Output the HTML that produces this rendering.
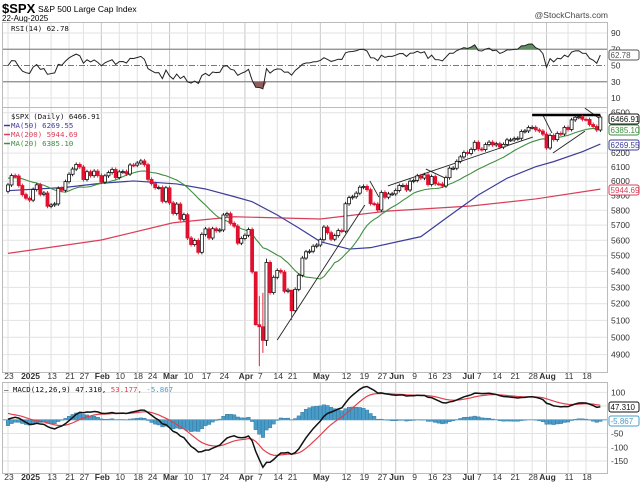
<!DOCTYPE html>
<html><head><meta charset="utf-8">
<style>
html,body{margin:0;padding:0;background:#fff;}
svg{display:block;font-family:"Liberation Sans",sans-serif;}
.mono{font-family:"DejaVu Sans Mono","Liberation Mono",monospace;}
</style></head>
<body>
<svg id="chart" width="640" height="483" viewBox="0 0 640 483" xmlns="http://www.w3.org/2000/svg">
<defs>
<clipPath id="cR"><rect x="2" y="22" width="605" height="85"/></clipPath>
<clipPath id="cP"><rect x="2" y="107" width="605" height="265"/></clipPath>
<clipPath id="cM"><rect x="2" y="382" width="605" height="91"/></clipPath>
</defs>
<text x="2" y="13" font-size="13" font-weight="bold">$SPX</text>
<text x="38" y="12" font-size="8.5">S&amp;P 500 Large Cap Index</text>
<text x="2" y="21" font-size="8">22-Aug-2025</text>
<text x="608" y="18" font-size="8.5" text-anchor="end" fill="#444">@StockCharts.com</text>
<g id="grid"></g>
<g id="rsi" clip-path="url(#cR)"></g>
<g id="price" clip-path="url(#cP)"></g>
<g id="macd" clip-path="url(#cM)"></g>
<g id="frames"></g>
<g id="axes"></g>
</svg>
<script>
// ---- data ----
const holidays = ["2024-11-28","2024-12-25","2025-01-01","2025-01-09","2025-01-20","2025-02-17","2025-04-18","2025-05-26","2025-06-19","2025-07-04"];
const priorCloses = [5917,5949,5969,5987,6021,5998,6032,6047,6050,6086,6075,6090,6053,6034,6084,6051,6051,6074,6050,5872,5867,5930];
const closes = [
5974,6040,6037,5970,5907,5882,
5869,5942,5975,5909,5918,5827,5836,5843,5950,5937,5997,6049,6086,6119,6101,6012,6067,6039,6071,6040,
5994,6038,6061,6083,6026,6066,6068,6051,6115,6114,6129,6144,6117,6013,5983,5955,5956,5861,5954,
5850,5778,5842,5739,5770,5615,5572,5599,5522,5639,5675,5615,5676,5663,5668,5768,5777,5712,5693,5581,5612,
5633,5671,5397,5074,5062,4982,5457,5268,5363,5406,5396,5276,5283,5158,5288,5376,5485,5525,5529,5561,5569,
5604,5687,5650,5607,5631,5664,5660,5844,5886,5892,5917,5958,5964,5941,5845,5842,5802,5922,5889,5912,5912,
5936,5970,5971,5939,6000,6006,6038,6022,6045,5977,6033,5982,5981,5967,6025,6092,6092,6141,6173,6205,
6198,6227,6279,6230,6226,6263,6280,6260,6269,6244,6264,6297,6297,6306,6309,6359,6363,6389,6390,6371,6362,6339,
6238,6330,6299,6345,6340,6389,6374,6446,6466,6469,6450,6449,6411,6396,6370,6467];
const bigRanges = {"2025-04-04":[5069,5292],"2025-04-07":[4835,5246],"2025-04-08":[4910,5267],"2025-04-09":[4950,5481],"2025-04-21":[5101,5232]};
const ma50Idx = [0,16,26,35,47,55,63,68,75,81,87,95,101,115,122,131,139,147,152,160,165];
const ma50Val = [5934,5957,5986,6002,5981,5946,5893,5858,5768,5681,5591,5543,5552,5624,5746,5904,6021,6103,6139,6211,6266];
const ma200Idx = [0,26,46,63,87,106,129,147,165];
const ma200Val = [5515,5602,5716,5756,5741,5795,5829,5877,5945];
const trendLines = [[75,4984,99.4,5836],[100.8,6002,103.3,5890],[105.8,5967,146.2,6318],[116.4,6086,121.7,6023],[149,6482,151.5,6348],[151.8,6201,160.7,6362],[160.7,6535,164.9,6453]];
const resistance = [146,6483,165,6483];
const priceTicks = [6500,6200,6100,6000,5900,5800,5700,5600,5500,5400,5300,5200,5100,5000,4900];
const rsiTicks = [90,70,50,30,10];
const macdTicks = [100,-50,-100,-150];
const dateLabels = [["2024-12-23","23",0],["2025-01-02","2025",1],["2025-01-13","13",0],["2025-01-21","21",0],["2025-01-27","27",0],["2025-02-03","Feb",1],["2025-02-10","10",0],["2025-02-18","18",0],["2025-02-24","24",0],["2025-03-03","Mar",1],["2025-03-10","10",0],["2025-03-17","17",0],["2025-03-24","24",0],["2025-04-01","Apr",1],["2025-04-07","7",0],["2025-04-14","14",0],["2025-04-21","21",0],["2025-05-01","May",1],["2025-05-12","12",0],["2025-05-19","19",0],["2025-05-27","27",0],["2025-06-02","Jun",1],["2025-06-09","9",0],["2025-06-16","16",0],["2025-06-23","23",0],["2025-07-01","Jul",1],["2025-07-07","7",0],["2025-07-14","14",0],["2025-07-21","21",0],["2025-07-28","28",0],["2025-08-01","Aug",1],["2025-08-11","11",0],["2025-08-18","18",0]];
const seeds = {ema12:5930, ema26:5885, signal:38, avgGain:16, avgLoss:11};

// ---- helpers ----
const NS="http://www.w3.org/2000/svg";
function mk(tag,attrs,parent){const e=document.createElementNS(NS,tag);for(const k in attrs)e.setAttribute(k,attrs[k]);parent.appendChild(e);return e;}
const days=[];
{let d=new Date(Date.UTC(2024,10,20));const end=Date.UTC(2025,7,22);
 while(d.getTime()<=end){const s=d.toISOString().slice(0,10),w=d.getUTCDay();if(w!==0&&w!==6&&holidays.indexOf(s)<0)days.push(s);d=new Date(d.getTime()+864e5);}}
const P=priorCloses.length;
const all=priorCloses.concat(closes);
const xOf=i=>8+i*3.59;
const yP=v=>337.3-856*Math.log(v/5000);
const yR=v=>33+(90-v)*0.8125;
const yM=v=>419.8-v*0.2748;
const mainIdx=date=>days.indexOf(date)-P;

const G=id=>document.getElementById(id);
const grid=G('grid'),rsiG=G('rsi'),priceG=G('price'),macdG=G('macd'),frames=G('frames'),axes=G('axes');

dateLabels.forEach(l=>{const x=xOf(mainIdx(l[0]));
 [[22,107],[107,372],[382,473]].forEach(r=>{const ln=mk('line',{x1:x,x2:x,y1:r[0],y2:r[1],stroke:l[2]?'#c8c8c8':'#e2e2e2','stroke-width':1},grid);
 
 });
 [376,477].forEach(y=>{const t=mk('text',{x:x+1,y:y+3,'font-size':8.5,'text-anchor':'middle','font-weight':l[2]?'bold':'normal',fill:'#333'},axes);t.textContent=l[1];
 
 });
});
priceTicks.forEach(v=>{const y=yP(v);const ln=mk('line',{x1:2,x2:607,y1:y,y2:y,stroke:'#e2e2e2'},grid);
 
 
 const t=mk('text',{x:611,y:y+3,'font-size':8.5,fill:'#333'},axes);t.textContent=v;
 
 });
rsiTicks.forEach(v=>{const y=yR(v);
 const ln=mk('line',{x1:2,x2:607,y1:y,y2:y,stroke:(v===70||v===30)?'#888':(v===50?'#777':'#e2e2e2'),'stroke-width':(v===70||v===30)?1.2:1,'stroke-dasharray':v===50?'6,2,1,2':'none'},grid);
 
 
 const t=mk('text',{x:611,y:y+3,'font-size':8.5,fill:'#333'},axes);t.textContent=v;
 
 });
[100,50,0,-50,-100,-150].forEach(v=>{const y=yM(v);const ln=mk('line',{x1:2,x2:607,y1:y,y2:y,stroke:'#e2e2e2'},grid);
 
 });
macdTicks.forEach(v=>{const t=mk('text',{x:611,y:yM(v)+3,'font-size':8.5,fill:'#333'},axes);t.textContent=v;
 
 });

// ---- RSI ----
let ag=seeds.avgGain,al=seeds.avgLoss;const rsi=[];
for(let i=1;i<all.length;i++){const ch=all[i]-all[i-1];ag=(ag*13+Math.max(ch,0))/14;al=(al*13+Math.max(-ch,0))/14;if(i>=P)rsi.push(100-100/(1+ag/al));}
const rsiMain=rsi.slice(rsi.length-closes.length);
const rsiPts=rsiMain.map((v,k)=>[xOf(k),yR(v)]);
const y70=yR(70),y30=yR(30);
let up='M'+rsiPts.map(p=>p[0]+','+Math.min(p[1],y70)).join('L')+'L'+rsiPts[rsiPts.length-1][0]+','+y70+'L'+rsiPts[0][0]+','+y70+'Z';
let dn='M'+rsiPts.map(p=>p[0]+','+Math.max(p[1],y30)).join('L')+'L'+rsiPts[rsiPts.length-1][0]+','+y30+'L'+rsiPts[0][0]+','+y30+'Z';
const su=mk('path',{d:up,fill:'#5f8f5f'},rsiG);


const sd=mk('path',{d:dn,fill:'#8f5f5f'},rsiG);


const rl=mk('polyline',{points:rsiPts.map(p=>p.join(',')).join(' '),fill:'none',stroke:'#222','stroke-width':1},rsiG);



// ---- Price ----
function interp(idx,val){const pts=[];for(let j=0;j<idx.length;j++)pts.push(xOf(idx[j])+','+yP(val[j]));return pts.join(' ');}
const m200=mk('polyline',{points:interp(ma200Idx,ma200Val),fill:'none',stroke:'#d8405a','stroke-width':1.2},priceG);


const m50=mk('polyline',{points:interp(ma50Idx,ma50Val),fill:'none',stroke:'#3d3d9a','stroke-width':1.2},priceG);


const ma20=[];for(let k=0;k<closes.length;k++){const a=P+k;let s=0;for(let j=a-19;j<=a;j++)s+=all[j];ma20.push(s/20);}
const m20=mk('polyline',{points:ma20.map((v,k)=>xOf(k)+','+yP(v)).join(' '),fill:'none',stroke:'#3f8f3f','stroke-width':1.1},priceG);


trendLines.forEach(t=>{const l=mk('line',{x1:xOf(t[0]),y1:yP(t[1]),x2:xOf(t[2]),y2:yP(t[3]),stroke:'#222','stroke-width':0.9},priceG);
 
 });
{const l=mk('line',{x1:xOf(resistance[0]),y1:yP(resistance[1]),x2:xOf(resistance[2]),y2:yP(resistance[3]),stroke:'#000','stroke-width':2.5},priceG);
 
 }
for(let k=0;k<closes.length;k++){
 const o=all[P+k-1],c=closes[k],x=xOf(k),upc=c>=o;
 const date=days[P+k];const col=upc?'#111':'#e0102f';
 let hi=yP(Math.max(o,c))-2,lo=yP(Math.min(o,c))+2;
 if(bigRanges[date]){lo=yP(bigRanges[date][0]);hi=yP(bigRanges[date][1]);}
 const w=mk('line',{x1:x,x2:x,y1:hi,y2:lo,stroke:col,'stroke-width':0.9},priceG);
 
 
 const yt=yP(Math.max(o,c)),h=Math.max(1,yP(Math.min(o,c))-yt);
 const b=mk('rect',{x:x-1.5,y:yt,width:3,height:h,fill:upc?'#fff':'#e0102f',stroke:col,'stroke-width':0.8},priceG);
 
 
}

// ---- MACD ----
let e12=seeds.ema12,e26=seeds.ema26,sg=seeds.signal;const mac=[],sig=[];
for(let i=0;i<all.length;i++){e12+=(all[i]-e12)*2/13;e26+=(all[i]-e26)*2/27;const m=e12-e26;sg+=(m-sg)*0.2;if(i>=P){mac.push(m);sig.push(sg);}}
for(let k=0;k<mac.length;k++){const h=mac[k]-sig[k];const y0=yM(0),y1=yM(h);
 const r=mk('rect',{x:xOf(k)-1.8,y:Math.min(y0,y1),width:3.6,height:Math.abs(y1-y0),fill:'#4a9cc8',stroke:'#2d6f96','stroke-width':0.4},macdG);
 
 }
const zl=mk('line',{x1:2,x2:607,y1:yM(0),y2:yM(0),stroke:'#4a9cc8','stroke-width':0.8},macdG);


const sl=mk('polyline',{points:sig.map((v,k)=>xOf(k)+','+yM(v)).join(' '),fill:'none',stroke:'#e0404a','stroke-width':1.2},macdG);


const ml=mk('polyline',{points:mac.map((v,k)=>xOf(k)+','+yM(v)).join(' '),fill:'none',stroke:'#111','stroke-width':1.5},macdG);



// ---- frames ----
[[2,22,605,85,'rsi-panel'],[2,107,605,265,'price-panel'],[2,382,605,91,'macd-panel']].forEach(f=>{
 const r=mk('rect',{x:f[0]+.5,y:f[1]+.5,width:f[2],height:f[3],fill:'none',stroke:'#bbb'},frames);
 
 });

function txt(x,y,s,fill,cls,name,fs){const t=mk('text',{x:x,y:y,'font-size':fs||7.4,fill:fill,class:cls||''},axes);t.textContent=s;
 
 return t;}
txt(11,31,'RSI(14) 62.78','#111','mono','rsi-legend');
txt(11,119,'$SPX (Daily) 6466.91','#111','mono','price-legend');
txt(11,128,'MA(50) 6269.55','#3d3d9a','mono','ma50-legend');
txt(11,137,'MA(200) 5944.69','#d8405a','mono','ma200-legend');
txt(11,146,'MA(20) 6385.10','#3f8f3f','mono','ma20-legend');
[[125.5,'#3d3d9a'],[134.5,'#d8405a'],[143.5,'#3f8f3f']].forEach(a=>{const l=mk('line',{x1:4,x2:10,y1:a[0],y2:a[0],stroke:a[1],'stroke-width':1.5},axes);
 
 });
{const g=mk('text',{x:4,y:392,'font-size':7.4,class:'mono'},axes);
 
 
 g.innerHTML='<tspan fill="#111">— MACD(12,26,9) 47.310, </tspan><tspan fill="#e0404a">53.177, </tspan><tspan fill="#4a9cc8">-5.867</tspan>';}
function box(y,s,col,name){const r=mk('rect',{x:609,y:y-5,width:30,height:10,fill:'#fff',stroke:col,rx:2},axes);
 
 
 txt(610.5,y+3.2,s,col,'',name,8);}
box(55,'62.78','#555','rsi-value');
box(119,'6466.91','#111','price-value');
box(130,'6385.10','#3f8f3f','ma20-value');
box(145,'6269.55','#3d3d9a','ma50-value');
box(190,'5944.69','#d8405a','ma200-value');
box(407,'47.310','#111','macd-value');
box(421,'-5.867','#4a9cc8','histogram-value');
</script>
</body></html>
